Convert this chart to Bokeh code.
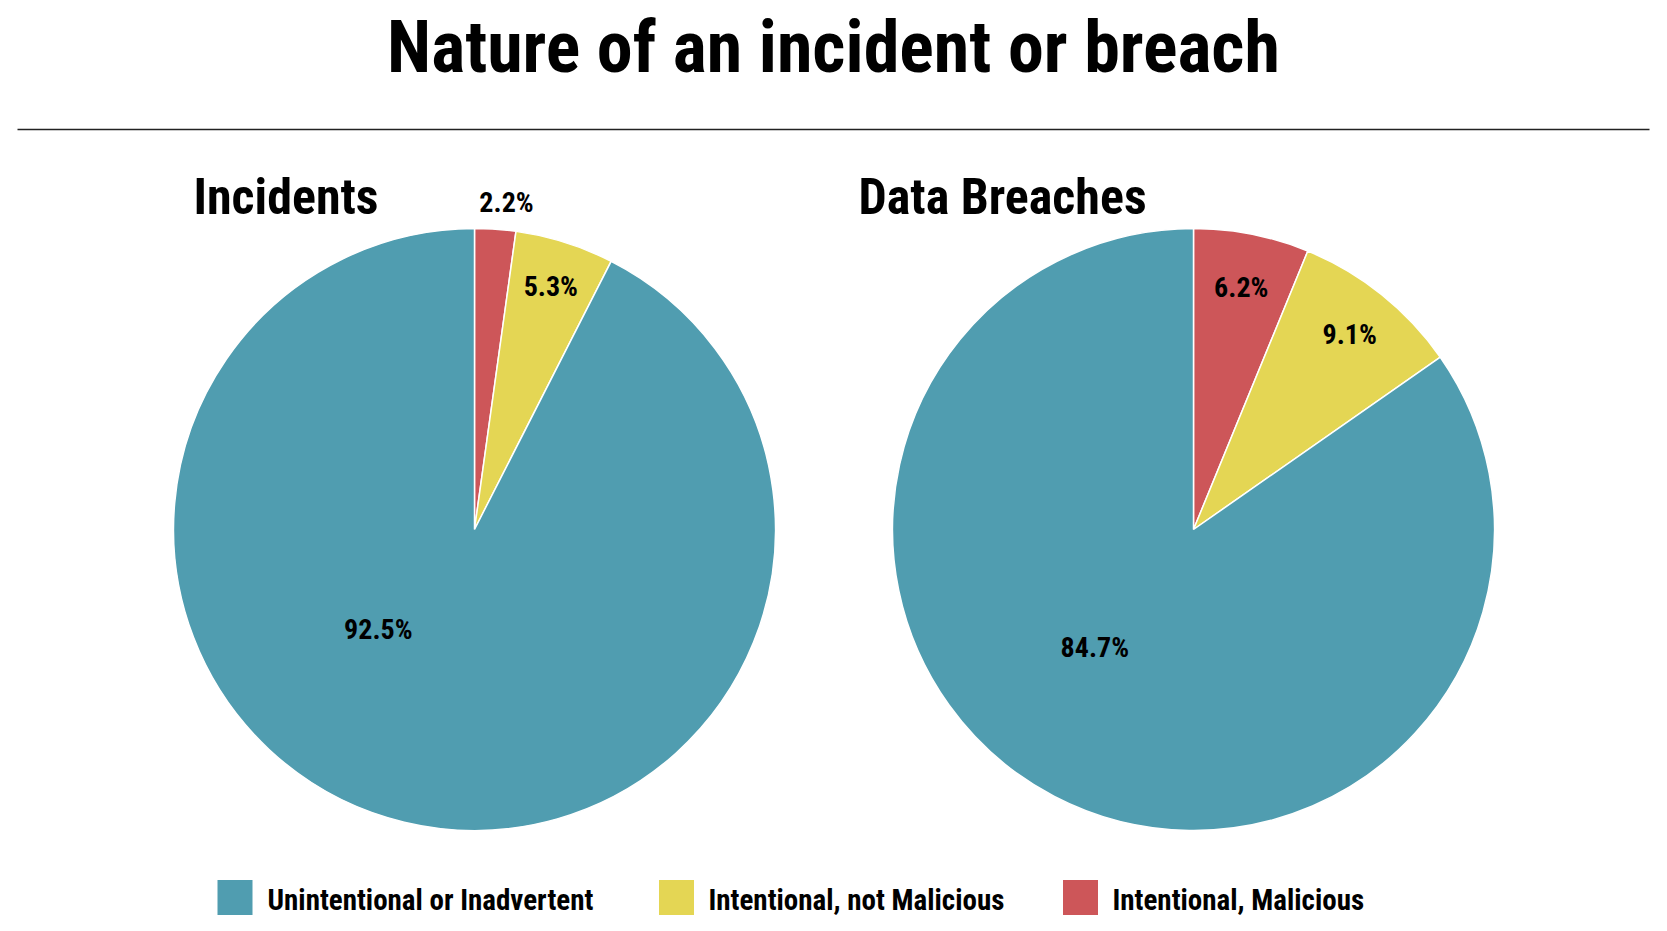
import math
from bokeh.plotting import figure
from bokeh.models import Range1d, ColumnDataSource
from bokeh.core.properties import value
from bokeh.embed import file_html
from bokeh.resources import INLINE

# ---- data ----
categories = ["Intentional, Malicious", "Intentional, not Malicious", "Unintentional or Inadvertent"]
incidents = [2.2, 5.3, 92.5]
breaches = [6.2, 9.1, 84.7]
colors = ["#CD5659", "#E4D654", "#509DB0"]
legend_order = [2, 1, 0]

title = "Nature of an incident or breach"
sub1 = "Incidents"
sub2 = "Data Breaches"

FONT = value("Roboto Condensed")
W, H = 1651, 915
TOTAL_H = 931


def sy(y):
    return TOTAL_H - y


p = figure(width=W, height=H, x_range=Range1d(0, W), y_range=Range1d(sy(H), sy(0)), title=None,
           output_backend="svg", toolbar_location=None, min_border=0)
p.axis.visible = False
p.grid.visible = False
p.outline_line_color = None
p.background_fill_color = "white"

p.text(x=[833], y=[sy(47)], text=[title], text_font=FONT, text_font_style="bold",
       text_font_size="72px", text_align="center", text_baseline="middle", text_color="black")
p.segment(x0=[17], y0=[sy(129)], x1=[1649], y1=[sy(129)], line_color="#222222", line_width=1.5)

R = 301


def pie(cx, cy, vals, label_pos, sub, sub_x):
    tot = sum(vals)
    starts, ends = [], []
    a = 90.0
    for v in vals:
        starts.append(math.radians(a))
        a -= 360.0 * v / tot
        ends.append(math.radians(a))
    src = ColumnDataSource(dict(s=starts, e=ends, c=colors))
    p.wedge(x=cx, y=sy(cy), radius=R, start_angle="s", end_angle="e", direction="clock",
            fill_color="c", line_color="white", line_width=1.5, source=src)
    lx, ly, lt = [], [], []
    for i, v in enumerate(vals):
        mid = math.degrees((starts[i] + ends[i]) / 2)
        ang, rf = label_pos[i]
        if ang is None:
            ang = mid
        lx.append(cx + rf * R * math.cos(math.radians(ang)))
        ly.append(sy(cy) + rf * R * math.sin(math.radians(ang)))
        lt.append(f"{v:.1f}%")
    p.text(x=lx, y=ly, text=lt, text_font=FONT, text_font_style="bold", text_font_size="28px",
           text_align="center", text_baseline="middle", text_color="black")
    p.text(x=[sub_x], y=[sy(196)], text=[sub], text_font=FONT, text_font_style="bold",
           text_font_size="50px", text_align="left", text_baseline="middle", text_color="black")


pie(474, 529, incidents, [(84.4, 1.09), (None, 0.845), (-134, 0.46)], sub1, 193)
pie(1193, 529, breaches, [(None, 0.82), (None, 0.83), (-130, 0.51)], sub2, 858)

# legend
sq_x = [234.5, 676, 1080]
tx_x = [267, 708, 1112]
for k, idx in enumerate(legend_order):
    p.rect(x=[sq_x[k]], y=[sy(897)], width=35, height=35, fill_color=colors[idx], line_color=None)
    p.text(x=[tx_x[k]], y=[sy(899)], text=[categories[idx]], text_font=FONT, text_font_style="bold",
           text_font_size="29px", text_align="left", text_baseline="middle", text_color="black")

open("out.html", "w").write(file_html(p, INLINE))
